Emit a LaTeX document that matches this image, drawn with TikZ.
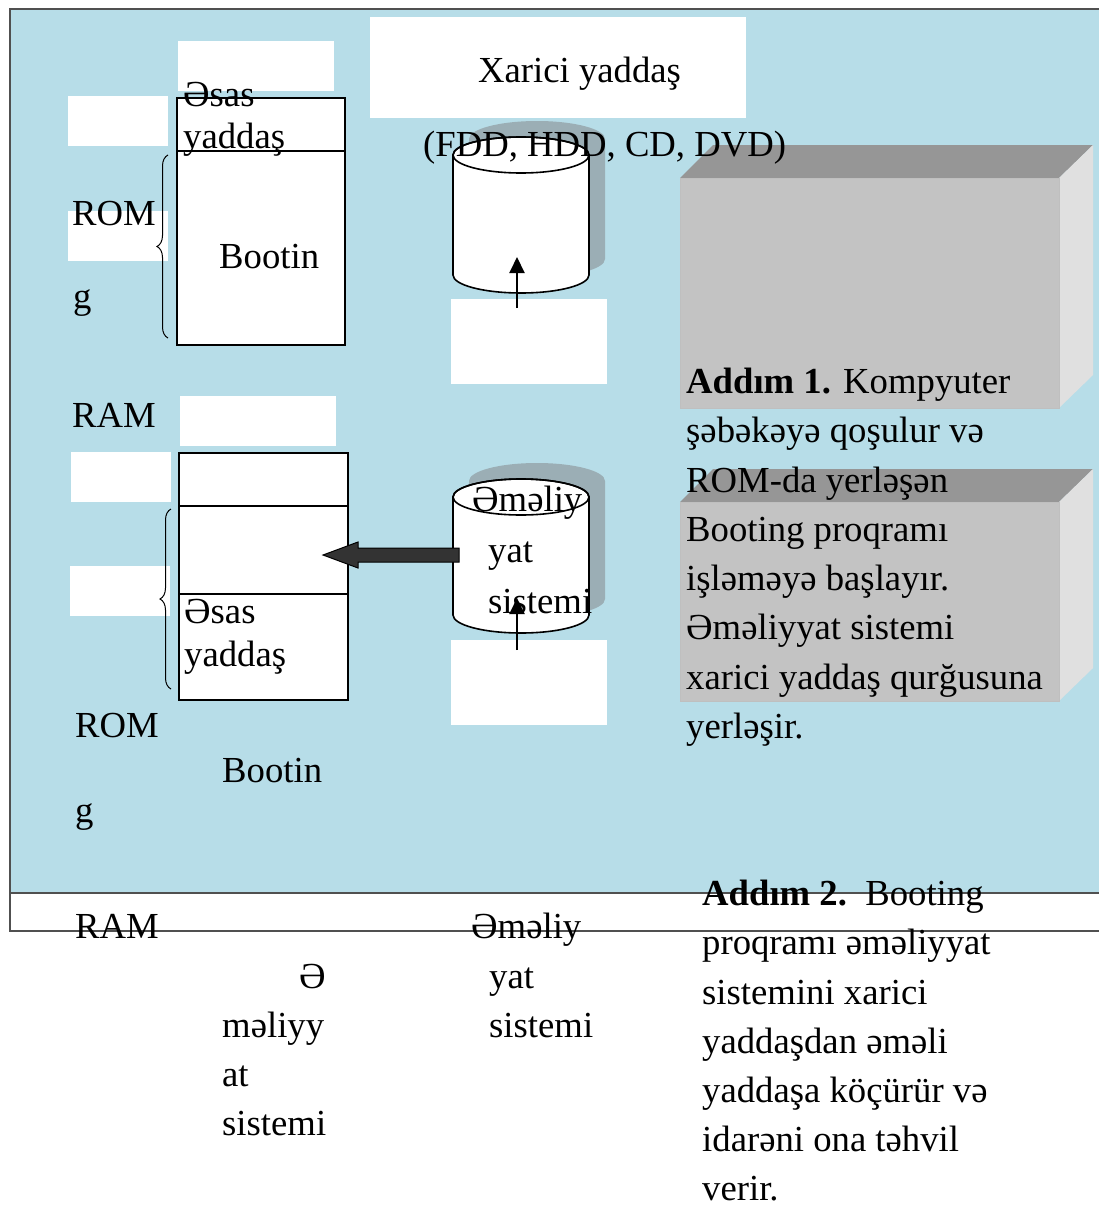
\documentclass[tikz,border=0pt]{standalone}
\usepackage{fontspec}
\setmainfont{Liberation Serif}
\usepackage{tikz}
\usetikzlibrary{arrows.meta}
\usetikzlibrary{calc, positioning, decorations.pathreplacing}
\definecolor{skyback}{RGB}{183,221,232}
\definecolor{framegray}{RGB}{80,80,80}
\definecolor{diskshade}{RGB}{155,174,181}
\definecolor{boxfront}{RGB}{195,195,195}
\definecolor{boxtop}{RGB}{150,150,150}
\definecolor{boxside}{RGB}{224,224,224}
\definecolor{arrowgray}{RGB}{51,51,51}

\begin{document}
\fontsize{36.7}{49}\selectfont
\begin{tikzpicture}[x=1pt, y=-1pt, every node/.style={anchor=base west, inner sep=0pt},
    frame/.style={draw=framegray, line width=1.5pt},
    pad/.style={fill=white},
    mem/.style={draw=black, line width=1.6pt, fill=white},
    brc/.style={decorate, decoration={brace, amplitude=11pt}, line width=1pt},
    disk/.style={draw=black, line width=1.6pt, fill=white},
    up/.style={-{Triangle[length=16pt, width=15pt]}, line width=2pt},
    blockarr/.style={draw=black, line width=1pt, fill=arrowgray}]
    \useasboundingbox (0,0) rectangle (1099,1207);

    % background and frame
    \fill[skyback] (10,9) rectangle (1099,893);
    \draw[frame] (1099,9) -- (10,9) -- (10,931) -- (1099,931);
    \draw[frame] (10,893) -- (1099,893);

    % empty white boxes
    \fill[pad] (178,41) rectangle (334,91);
    \fill[pad] (68,96) rectangle (168,146);
    \fill[pad] (68,211) rectangle (168,261);
    \fill[pad] (370,17) rectangle (746,118);
    \fill[pad] (451,299) rectangle (607,384);
    \fill[pad] (180,396) rectangle (336,446);
    \fill[pad] (71,452) rectangle (171,502);
    \fill[pad] (70,566) rectangle (170,616);
    \fill[pad] (451,640) rectangle (607,725);

    % memory blocks
    \draw[mem] (177,98) rectangle (345,345);
    \draw[line width=1.6pt] (177,151) -- (345,151);
    \draw[mem] (179,453) rectangle (348,700);
    \draw[line width=1.6pt] (179,506) -- (348,506);
    \draw[line width=1.6pt] (179,594) -- (348,594);

    % braces
    \draw[brc] (168,338) -- (168,155);
    \draw[brc] (171,689) -- (171,509);

    % disks
    \fill[diskshade] (469,139) -- (469,259) arc[start angle=180, end angle=0, x radius=68, y radius=18]
        -- (605,139) arc[start angle=0, end angle=-180, x radius=68, y radius=18] -- cycle;
    \draw[disk] (453,155) -- (453,275) arc[start angle=180, end angle=0, x radius=68, y radius=18]
        -- (589,155) arc[start angle=0, end angle=-180, x radius=68, y radius=18] -- cycle;
    \draw[line width=1.6pt] (521,155) ellipse[x radius=68, y radius=18];

    \fill[diskshade] (469,481) -- (469,599) arc[start angle=180, end angle=0, x radius=68, y radius=18]
        -- (605,481) arc[start angle=0, end angle=-180, x radius=68, y radius=18] -- cycle;
    \draw[disk] (453,497) -- (453,615) arc[start angle=180, end angle=0, x radius=68, y radius=18]
        -- (589,497) arc[start angle=0, end angle=-180, x radius=68, y radius=18] -- cycle;
    \draw[line width=1.6pt] (521,497) ellipse[x radius=68, y radius=18];

    % 3D boxes
    \fill[boxtop] (680,178) -- (713,145) -- (1093,145) -- (1059,178) -- cycle;
    \fill[boxside] (1059,178) -- (1093,145) -- (1093,375) -- (1059,408) -- cycle;
    \filldraw[fill=boxfront, draw=black!25] (680,178) rectangle (1059,408);
    \fill[boxtop] (680,502) -- (713,469) -- (1093,469) -- (1059,502) -- cycle;
    \fill[boxside] (1059,502) -- (1093,469) -- (1093,668) -- (1059,701) -- cycle;
    \filldraw[fill=boxfront, draw=black!25] (680,502) rectangle (1059,701);

    % texts, upper part
    \node (xar) at (478,82) {Xarici yaddaş};
    \node (fdd) at (423,156) {(FDD, HDD, CD, DVD)};
    \node (es1) at (183,106) {Əsas};
    \node (ya1) at (183,148) {yaddaş};
    \node (bo1) at (219,268) {Bootin};
    \node (rom1) at (72,225) {ROM};
    \node (g1) at (73,308) {g};
    \node (ram1) at (72,427) {RAM};
    \node (es2) at (184,623) {Əsas};
    \node (ya2) at (184,666) {yaddaş};
    \node (os1) at (472,511) {Əməliy};
    \node (os2) at (488,562) {yat};
    \node (os3) at (488,613) {sistemi};
    \node (rom2) at (75,737) {ROM};
    \node (bo2) at (222,782) {Bootin};
    \node (g2) at (75,822) {g};

    % texts, lower part
    \node (ram2) at (75,938) {RAM};
    \node (os4) at (471,938) {Əməliy};
    \node (os5) at (489,988) {yat};
    \node (os6) at (489,1037) {sistemi};
    \node (ox1) at (299,988) {Ə};
    \node (ox2) at (222,1037) {məliyy};
    \node (ox3) at (222,1086) {at};
    \node (ox4) at (222,1135) {sistemi};

    % step 1
    \node (s1a) at (686,393) {\textbf{Addım 1.} Kompyuter};
    \node (s1b) at (686,442) {şəbəkəyə qoşulur və};
    \node (s1c) at (686,492) {ROM-da yerləşən};
    \node (s1d) at (686,541) {Booting proqramı};
    \node (s1e) at (686,590) {işləməyə başlayır.};
    \node (s1f) at (686,639) {Əməliyyat sistemi};
    \node (s1g) at (686,689) {xarici yaddaş qurğusuna};
    \node (s1h) at (686,738) {yerləşir.};

    % step 2
    \node (s2a) at (702,905) {\textbf{Addım 2.}\ \ Booting};
    \node (s2b) at (702,954) {proqramı əməliyyat};
    \node (s2c) at (702,1004) {sistemini xarici};
    \node (s2d) at (702,1053) {yaddaşdan əməli};
    \node (s2e) at (702,1102) {yaddaşa köçürür və};
    \node (s2f) at (702,1151) {idarəni ona təhvil};
    \node (s2g) at (702,1200) {verir.};

    % arrows
    \coordinate (w1) at (517,308);
    \coordinate (d1) at (517,257);
    \coordinate (w2) at (517,650);
    \coordinate (d2) at (517,598);
    \coordinate (dw) at (459,555);
    \coordinate (mt) at (323,555);
    \draw[up] (w1) -- (d1);
    \draw[up] (w2) -- (d2);
    \draw[blockarr] (dw) -- ++(0,-7) -- ++(-101,0) -- ++(0,-6) -- (mt) -- ++(35,13) -- ++(0,-6) -- ++(101,0) -- cycle;
\end{tikzpicture}
\end{document}
